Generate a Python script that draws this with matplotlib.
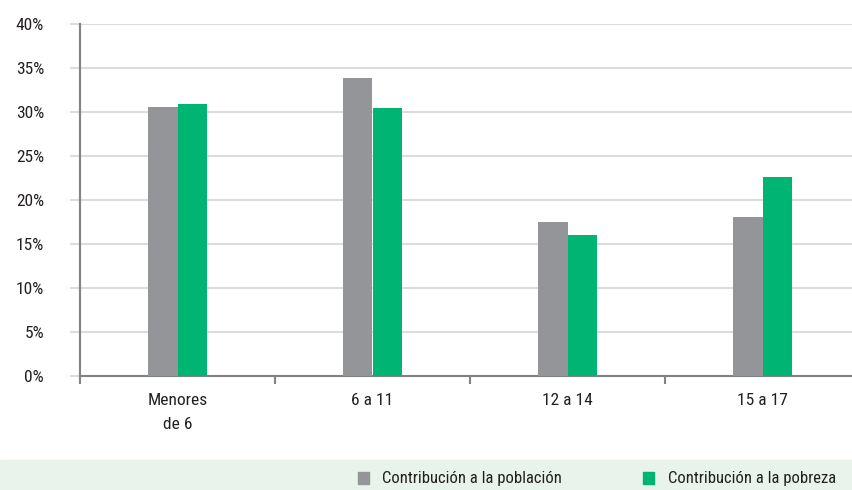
import numpy as np
import matplotlib
matplotlib.use("Agg")
import matplotlib.pyplot as plt
from matplotlib.patches import Rectangle

plt.rcParams['font.family'] = ['Roboto Condensed', 'DejaVu Sans']

categories = ["Menores\nde 6", "6 a 11", "12 a 14", "15 a 17"]
poblacion = [30.6, 33.9, 17.5, 18.1]
pobreza = [30.9, 30.5, 16.0, 22.6]
series_names = ["Contribución a la población", "Contribución a la pobreza"]
yticks = [0, 5, 10, 15, 20, 25, 30, 35, 40]

gray = "#939598"
green = "#00b474"
axis_gray = "#808285"
txt = "#231f20"

fig = plt.figure(figsize=(8.53, 4.9), dpi=100)
ax = fig.add_axes([80 / 853, 1 - 376 / 490, 780 / 853, 352 / 490])

x = np.arange(len(categories))
w = 0.153
ax.bar(x - w / 2, poblacion, w, color=gray, zorder=3)
ax.bar(x + w / 2, pobreza, w, color=green, zorder=3)

ax.set_xlim(-0.5, len(categories) - 0.5)
ax.set_ylim(0, 40)
ax.set_yticks(yticks)
ax.set_yticklabels([f"{v}%" for v in yticks], fontsize=12.5, color=txt)
ax.yaxis.grid(True, color="#dcdcdc", linewidth=1.5, zorder=0)
ax.tick_params(axis="y", length=7, color="#dcdcdc", width=1.5, pad=19)

ax.set_xticks(x)
ax.set_xticklabels(categories, fontsize=12.5, color=txt, linespacing=1.75)
ax.set_xticks(np.arange(-0.5, len(categories), 1), minor=True)
ax.tick_params(axis="x", which="major", length=0, pad=12)
ax.tick_params(axis="x", which="minor", length=6, color=axis_gray, width=1.5)

for s in ["top", "right"]:
    ax.spines[s].set_visible(False)
for s in ["left", "bottom"]:
    ax.spines[s].set_color(axis_gray)
    ax.spines[s].set_linewidth(1.5)

# legend band
fig.patches.append(Rectangle((0, 0), 1, 30 / 490, transform=fig.transFigure,
                             color="#e8f3ec", zorder=0))
ly = 6 / 490
fig.patches.append(Rectangle((358 / 853, ly), 11 / 853, 12 / 490,
                             transform=fig.transFigure, color=gray))
fig.text(382 / 853, ly + 6 / 490, series_names[0], fontsize=12, color=txt, va="center")
fig.patches.append(Rectangle((643 / 853, ly), 11 / 853, 12 / 490,
                             transform=fig.transFigure, color=green))
fig.text(668 / 853, ly + 6 / 490, series_names[1], fontsize=12, color=txt, va="center")

fig.savefig("out.png", dpi=100)
